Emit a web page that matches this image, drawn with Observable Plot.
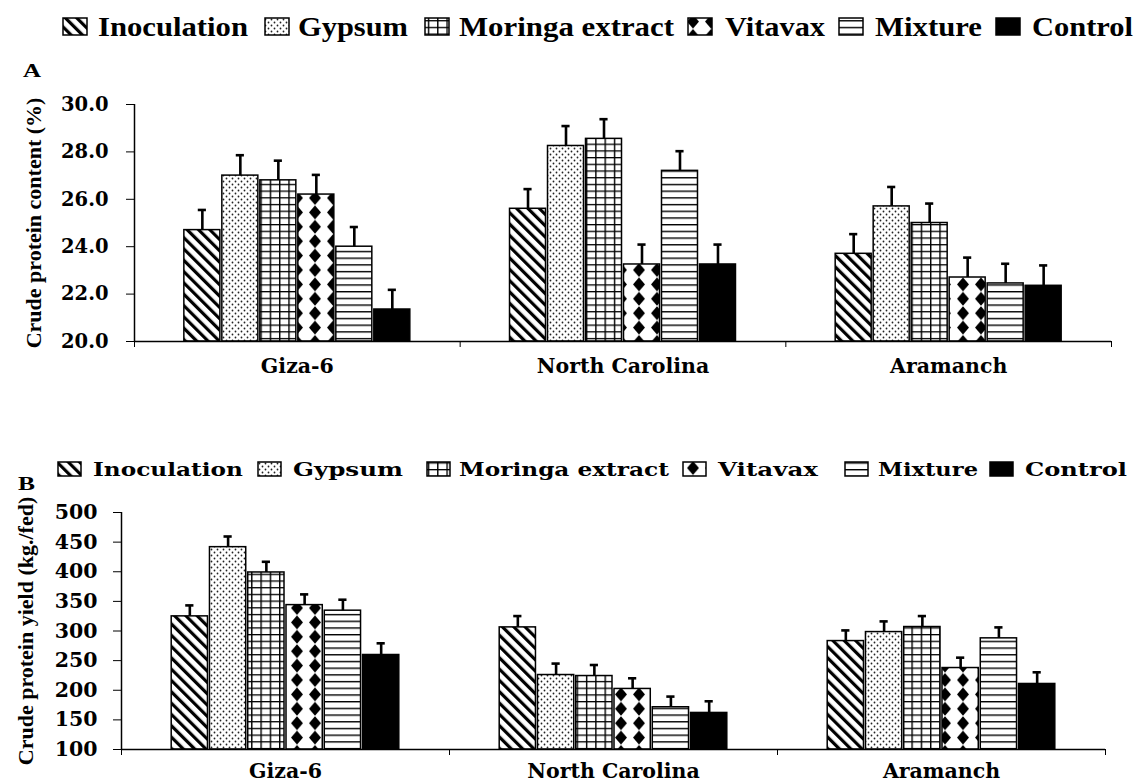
<!DOCTYPE html>
<html>
<head>
<meta charset="utf-8">
<script src="https://cdn.jsdelivr.net/npm/d3@7"></script>
<script src="https://cdn.jsdelivr.net/npm/@observablehq/plot@0.6"></script>
<style>
  html, body { margin: 0; padding: 0; background: white; }
  #page { position: relative; width: 1136px; height: 783px; overflow: hidden; background: white; }
  #plotA { position: absolute; left: 0; top: 90px; }
  #plotB { position: absolute; left: 0; top: 500px; }
  #overlay { position: absolute; left: 0; top: 0; z-index: 2; pointer-events: none; }
</style>
</head>
<body>
<div id="page">
  <div id="plotA"></div>
  <div id="plotB"></div>
  <svg id="overlay" width="1136" height="783" xmlns="http://www.w3.org/2000/svg">
    <defs>
      <pattern id="pInoc" patternUnits="userSpaceOnUse" width="8" height="8" patternTransform="rotate(-45)">
        <rect width="8" height="8" fill="white"/>
        <rect width="3.2" height="8" fill="black"/>
      </pattern>
      <pattern id="pGyp" patternUnits="userSpaceOnUse" width="6" height="6">
        <rect width="6" height="6" fill="white"/>
        <circle cx="1.5" cy="1.5" r="0.9" fill="#222"/>
        <circle cx="4.5" cy="4.5" r="0.9" fill="#222"/>
      </pattern>
      <pattern id="pMor" patternUnits="userSpaceOnUse" width="9.3" height="6.7">
        <rect width="9.3" height="6.7" fill="white"/>
        <rect x="0" y="0" width="1.4" height="6.7" fill="black"/>
        <rect x="0" y="0" width="9.3" height="1.3" fill="black"/>
      </pattern>
      <pattern id="pVit" patternUnits="userSpaceOnUse" width="18" height="14.4">
        <rect width="18" height="14.4" fill="white"/>
        <polygon points="9,0.3 15,7.2 9,14.1 3,7.2" fill="black"/>
      </pattern>
      <pattern id="pMix" patternUnits="userSpaceOnUse" width="10" height="6.7">
        <rect width="10" height="6.7" fill="white"/>
        <rect x="0" y="0" width="10" height="1.4" fill="black"/>
      </pattern>
    </defs>
    <g id="legends"></g>
  </svg>
</div>
<script>
// ---------- data ----------
const sites = ["Giza-6", "North Carolina", "Aramanch"];
const treatments = ["Inoculation", "Gypsum", "Moringa extract", "Vitavax", "Mixture", "Control"];

// A: Crude protein content (%)
const contentGiza6 = [24.7, 27.0, 26.8, 26.2, 24.0, 21.35];
const contentNorthCarolina = [25.6, 28.25, 28.55, 23.25, 27.2, 23.25];
const contentAramanch = [23.7, 25.7, 25.0, 22.7, 22.45, 22.35];
const contentErrGiza6 = [0.85, 0.86, 0.83, 0.83, 0.83, 0.83];
const contentErrNorthCarolina = [0.83, 0.84, 0.83, 0.84, 0.83, 0.84];
const contentErrAramanch = [0.83, 0.82, 0.82, 0.84, 0.83, 0.86];
const contentDomain = [20, 30];

// B: Crude protein yield (kg./fed)
const yieldGiza6 = [324.7, 441.5, 398.8, 343.7, 334.3, 259.5];
const yieldNorthCarolina = [306.1, 225.7, 224.0, 202.2, 171.3, 161.7];
const yieldAramanch = [283.0, 298.2, 306.7, 237.5, 287.6, 210.6];
const yieldErrGiza6 = [18.5, 18.0, 18.0, 18.1, 18.5, 19.7];
const yieldErrNorthCarolina = [19.1, 19.3, 18.6, 18.0, 18.0, 19.7];
const yieldErrAramanch = [18.0, 18.0, 18.5, 17.5, 18.5, 19.7];
const yieldDomain = [100, 500];

const patternFills = ["url(#pInoc)", "url(#pGyp)", "url(#pMor)", "url(#pVit)", "url(#pMix)", "black"];
const SERIF = "'Liberation Serif', 'Times New Roman', Times, serif";
const WIDE_SERIF = "'DejaVu Serif', serif";

// ---------- helpers ----------
function buildRows(valueLists, errLists) {
  return sites.flatMap((site, si) => treatments.map((t, k) => ({
    site, si, treatment: t, k, value: valueLists[si][k], err: errLists[si][k]
  })));
}
const groupStart = 0.15, groupWidth = 0.70;
const barW = groupWidth / treatments.length;
const bx1 = d => d.si + groupStart + d.k * barW;
const bx2 = d => d.si + groupStart + (d.k + 1) * barW;
const bxc = d => d.si + groupStart + (d.k + 0.5) * barW;
const capHalf = 0.0125;

function panel({rows, domain, ticks, tickFormat, tickPadding, title, titleDx, labelDy, height, marginTop, marginBottom, marginLeft, marginRight, fontSize}) {
  const marks = [];
  treatments.forEach((t, k) => {
    marks.push(Plot.rectY(rows.filter(r => r.k === k), {
      x1: bx1, x2: bx2, y1: () => domain[0], y2: "value",
      fill: patternFills[k], stroke: "black", strokeWidth: 1.5, insetLeft: 1, insetRight: 1
    }));
  });
  marks.push(Plot.ruleX(rows, {x: bxc, y1: "value", y2: d => d.value + d.err, stroke: "black", strokeWidth: 2.6}));
  marks.push(Plot.ruleY(rows, {y: d => d.value + d.err, x1: d => bxc(d) - capHalf, x2: d => bxc(d) + capHalf, stroke: "black", strokeWidth: 2.6}));
  marks.push(Plot.ruleY([domain[0]], {stroke: "black", strokeWidth: 1.5}));
  marks.push(Plot.ruleX([0], {stroke: "black", strokeWidth: 1.5}));
  marks.push(Plot.text(sites, {
    x: (d, i) => i + 0.5, frameAnchor: "bottom", text: d => d, dy: labelDy,
    textAnchor: "middle", lineAnchor: "middle", fontSize: 20.5, fontWeight: "bold", fontFamily: WIDE_SERIF
  }));
  marks.push(Plot.text([title], {
    frameAnchor: "left", text: d => d, rotate: -90, dx: titleDx,
    textAnchor: "middle", lineAnchor: "middle", fontSize: 22, fontWeight: "bold", fontFamily: SERIF
  }));
  return Plot.plot({
    width: 1136, height, marginTop, marginBottom, marginLeft, marginRight,
    style: {fontFamily: WIDE_SERIF, fontWeight: "bold", fontSize: fontSize + "px", color: "black", background: "transparent", overflow: "visible"},
    x: {domain: [0, sites.length], ticks: sites.length, tickFormat: () => "", tickSize: 6, label: null},
    y: {domain, ticks, tickFormat, tickSize: 8, tickPadding, label: null},
    marks
  });
}

const rowsA = buildRows([contentGiza6, contentNorthCarolina, contentAramanch],
                        [contentErrGiza6, contentErrNorthCarolina, contentErrAramanch]);
const rowsB = buildRows([yieldGiza6, yieldNorthCarolina, yieldAramanch],
                        [yieldErrGiza6, yieldErrNorthCarolina, yieldErrAramanch]);

document.getElementById("plotA").appendChild(panel({
  rows: rowsA, domain: contentDomain, ticks: 5, tickFormat: d3.format(".1f"), tickPadding: 18,
  title: "Crude protein content (%)", titleDx: -101, labelDy: 25,
  height: 310, marginTop: 14, marginBottom: 59, marginLeft: 134, marginRight: 25, fontSize: 19.5
}));
document.getElementById("plotB").appendChild(panel({
  rows: rowsB, domain: yieldDomain, ticks: 8, tickFormat: d3.format("d"), tickPadding: 16,
  title: "Crude protein yield (kg./fed)", titleDx: -96, labelDy: 22,
  height: 283, marginTop: 12, marginBottom: 34, marginLeft: 121, marginRight: 31, fontSize: 20.5
}));

// ---------- legends & panel letters ----------
const legendA = {
  swatchX: [63, 265, 425, 688, 839, 996], textX: [98, 298, 459, 725, 875, 1032],
  textW: [150, 110, 215, 100, 107, 101], swY: 18, swW: 24, swH: 17, baseline: 36,
  font: SERIF, size: 28
};
const legendB = {
  swatchX: [58, 258, 427, 683, 845, 990], textX: [93, 293, 459, 718, 878, 1025],
  textW: [150, 110, 210, 100, 100, 102], swY: 462, swW: 23, swH: 14, baseline: 476,
  font: WIDE_SERIF, size: 19
};
const g = d3.select("#legends");
[legendA, legendB].forEach(L => {
  treatments.forEach((t, k) => {
    g.append("rect").attr("x", L.swatchX[k]).attr("y", L.swY).attr("width", L.swW).attr("height", L.swH)
      .attr("fill", patternFills[k]).attr("stroke", "black").attr("stroke-width", 1.5);
    g.append("text").attr("x", L.textX[k]).attr("y", L.baseline)
      .style("font-family", L.font).attr("font-weight", "bold").attr("font-size", L.size)
      .attr("textLength", L.textW[k]).attr("lengthAdjust", "spacingAndGlyphs").text(t);
  });
});
g.append("text").attr("x", 23).attr("y", 77).style("font-family", SERIF).attr("font-weight", "bold")
  .attr("font-size", 18).attr("textLength", 18).attr("lengthAdjust", "spacingAndGlyphs").text("A");
g.append("text").attr("x", 18).attr("y", 490).style("font-family", SERIF).attr("font-weight", "bold")
  .attr("font-size", 18).attr("textLength", 17).attr("lengthAdjust", "spacingAndGlyphs").text("B");
</script>
</body>
</html>
